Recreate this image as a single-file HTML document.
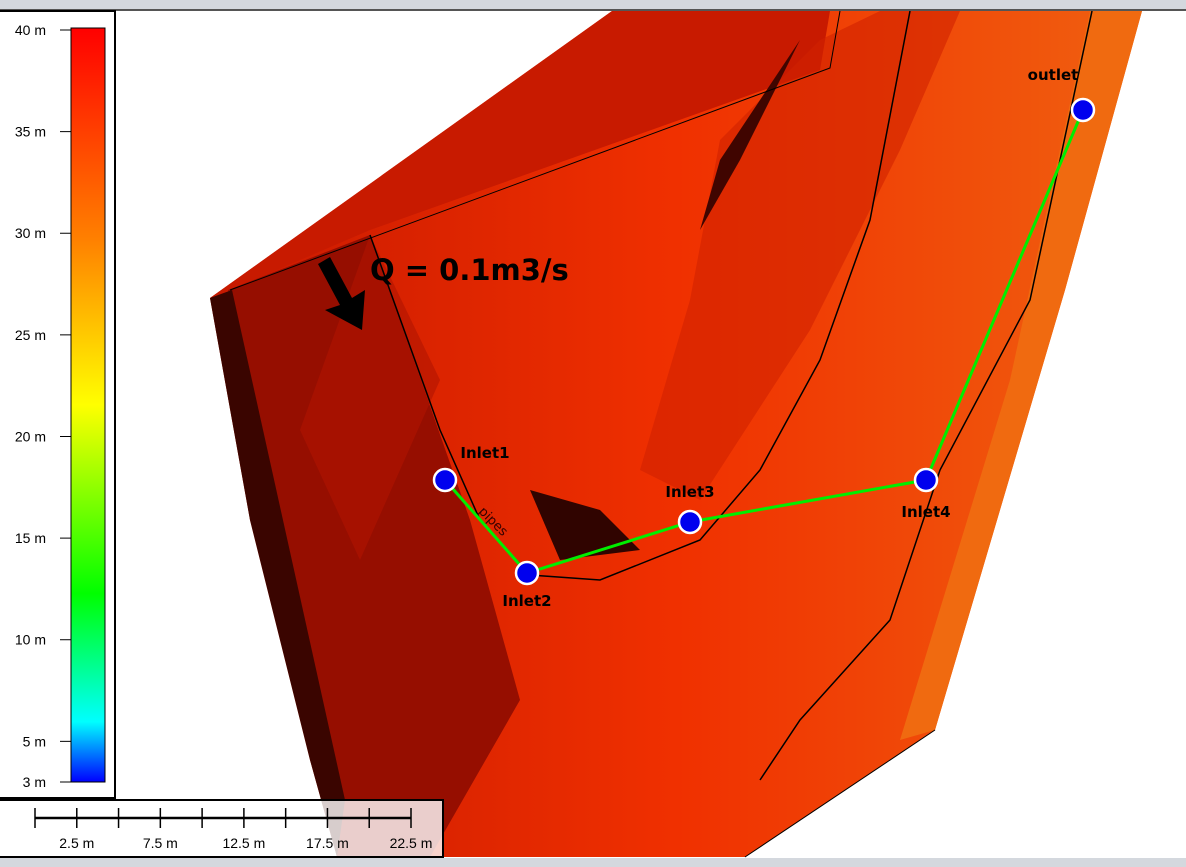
<!DOCTYPE html>
<html><head><meta charset="utf-8"><style>
html,body{margin:0;padding:0;width:1186px;height:867px;overflow:hidden;background:#fff;font-family:"Liberation Sans","DejaVu Sans",sans-serif}
svg{position:absolute;left:0;top:0}
</style></head><body>
<svg width="1186" height="867" viewBox="0 0 1186 867">
<defs>
<linearGradient id="cbar" x1="0" y1="0" x2="0" y2="1">
<stop offset="0" stop-color="#ff0000"/><stop offset="0.28" stop-color="#ff8000"/>
<stop offset="0.50" stop-color="#ffff00"/><stop offset="0.75" stop-color="#00ff00"/>
<stop offset="0.92" stop-color="#00ffff"/><stop offset="1" stop-color="#0000ff"/>
</linearGradient>
<linearGradient id="terr" x1="0" y1="0" x2="1" y2="0">
<stop offset="0" stop-color="#c81800"/><stop offset="0.5" stop-color="#f03000"/><stop offset="1" stop-color="#f06010"/>
</linearGradient>
</defs>
<rect x="0" y="0" width="1186" height="9" fill="#d4d8de"/>
<rect x="0" y="9" width="1186" height="2" fill="#555"/>
<rect x="0" y="858" width="1186" height="9" fill="#d4d8de"/>
<g>
<polygon points="210,298 612,11 1142,11 1065,290 935,730 745,857 337,857 310,760 250,520" fill="url(#terr)"/>
<polygon points="210,298 612,11 830,11 820,70 370,230 230,290" fill="#c81a00"/>
<polygon points="228,290 370,235 470,520 520,700 430,857 337,857 300,700 250,500" fill="#960e00"/>
<polygon points="370,235 440,380 360,560 300,430" fill="#b01400" opacity="0.6"/>
<polygon points="210,298 232,290 345,800 337,857 310,760 250,520" fill="#3a0500"/>
<polygon points="1090,11 1142,11 1065,290 935,730 900,740 1010,380" fill="#f06a10"/>
<polygon points="720,140 820,40 880,11 960,11 900,150 810,330 700,500 640,470 690,300" fill="#d02200" opacity="0.6"/>
<polygon points="800,40 740,160 700,230 720,160" fill="#400500"/>
<polygon points="530,490 600,510 640,550 560,560" fill="#300400"/>
<polyline points="370,235 440,430 480,520 530,575 600,580 700,540 760,470 820,360 870,220 910,11" fill="none" stroke="#000" stroke-width="1.5"/>
<polyline points="1092,11 1030,300 940,470 890,620 800,720 760,780" fill="none" stroke="#000" stroke-width="1.5"/>
<polyline points="230,290 830,68 840,11" fill="none" stroke="#000" stroke-width="1"/>
<polyline points="935,730 745,857" fill="none" stroke="#000" stroke-width="1"/>
</g>
<g>
<polygon points="318,264 330,257 352,298 365,290 362,330 325,310 340,305" fill="#000"/>
<text x="370" y="280" font-size="29" font-weight="bold" fill="#000" font-family="DejaVu Sans, sans-serif">Q = 0.1m3/s</text>
<text x="478" y="512" font-size="13" fill="#300" transform="rotate(45 478 512)" font-family="DejaVu Sans, sans-serif">pipes</text>
</g>
<g id="net"></g>
<g>
<rect x="-1" y="11" width="116" height="787" fill="#fff" stroke="#000" stroke-width="2"/>
<rect x="71" y="28" width="34" height="754" fill="url(#cbar)" stroke="#000" stroke-width="1"/>
<g id="cticks"></g>
</g>
<g>
<rect x="-1" y="800" width="444" height="57" fill="rgba(255,255,255,0.8)" stroke="#000" stroke-width="2"/>
<line x1="35" y1="818" x2="411" y2="818" stroke="#000" stroke-width="2.5"/>
<g id="sticks"></g>
</g>
</svg>
<script>
const nodeNames=["Inlet1","Inlet2","Inlet3","Inlet4","outlet"];
const nodeX=[445,527,690,926,1083];
const nodeY=[480,573,522,480,110];
const labelDX=[40,0,0,0,-30];
const labelDY=[-22,33,-25,37,-30];
const legendTicks=[40,35,30,25,20,15,10,5,3];
const scaleLabels=["2.5 m","7.5 m","12.5 m","17.5 m","22.5 m"];
const NS="http://www.w3.org/2000/svg";
function mk(t,a,p){const e=document.createElementNS(NS,t);for(const k in a)e.setAttribute(k,a[k]);p.appendChild(e);return e;}
const net=document.getElementById('net');
const pl=mk('polyline',{points:nodeX.map((x,i)=>x+','+nodeY[i]).join(' '),fill:'none',stroke:'#00ee00','stroke-width':3},net);


nodeNames.forEach((n,i)=>{
 const c=mk('circle',{cx:nodeX[i],cy:nodeY[i],r:11,fill:'#0000ee',stroke:'#fff','stroke-width':2.5},net);
 
 
 const t=mk('text',{x:nodeX[i]+labelDX[i],y:nodeY[i]+labelDY[i],'font-size':15,'font-weight':'bold','text-anchor':'middle',fill:'#000','font-family':'DejaVu Sans, sans-serif'},net);
 t.textContent=n;
 
 
});
const ct=document.getElementById('cticks');
const yv=v=>782-(v-3)/(40-3)*(782-30);
legendTicks.forEach(v=>{
 const y=yv(v);
 mk('line',{x1:60,y1:y,x2:71,y2:y,stroke:'#000','stroke-width':1},ct);
 const t=mk('text',{x:46,y:y+5,'font-size':14,'text-anchor':'end',fill:'#000'},ct);
 t.textContent=v+' m';
 
 
});
const st=document.getElementById('sticks');
for(let i=0;i<=9;i++){const x=35+i*(411-35)/9;mk('line',{x1:x,y1:808,x2:x,y2:828,stroke:'#000','stroke-width':1.5},st);}
scaleLabels.forEach((s,i)=>{
 const x=35+(2*i+1)*(411-35)/9;
 const t=mk('text',{x:x,y:848,'font-size':14,'text-anchor':'middle',fill:'#000'},st);
 t.textContent=s;
 
 
});
</script>
</body></html>
